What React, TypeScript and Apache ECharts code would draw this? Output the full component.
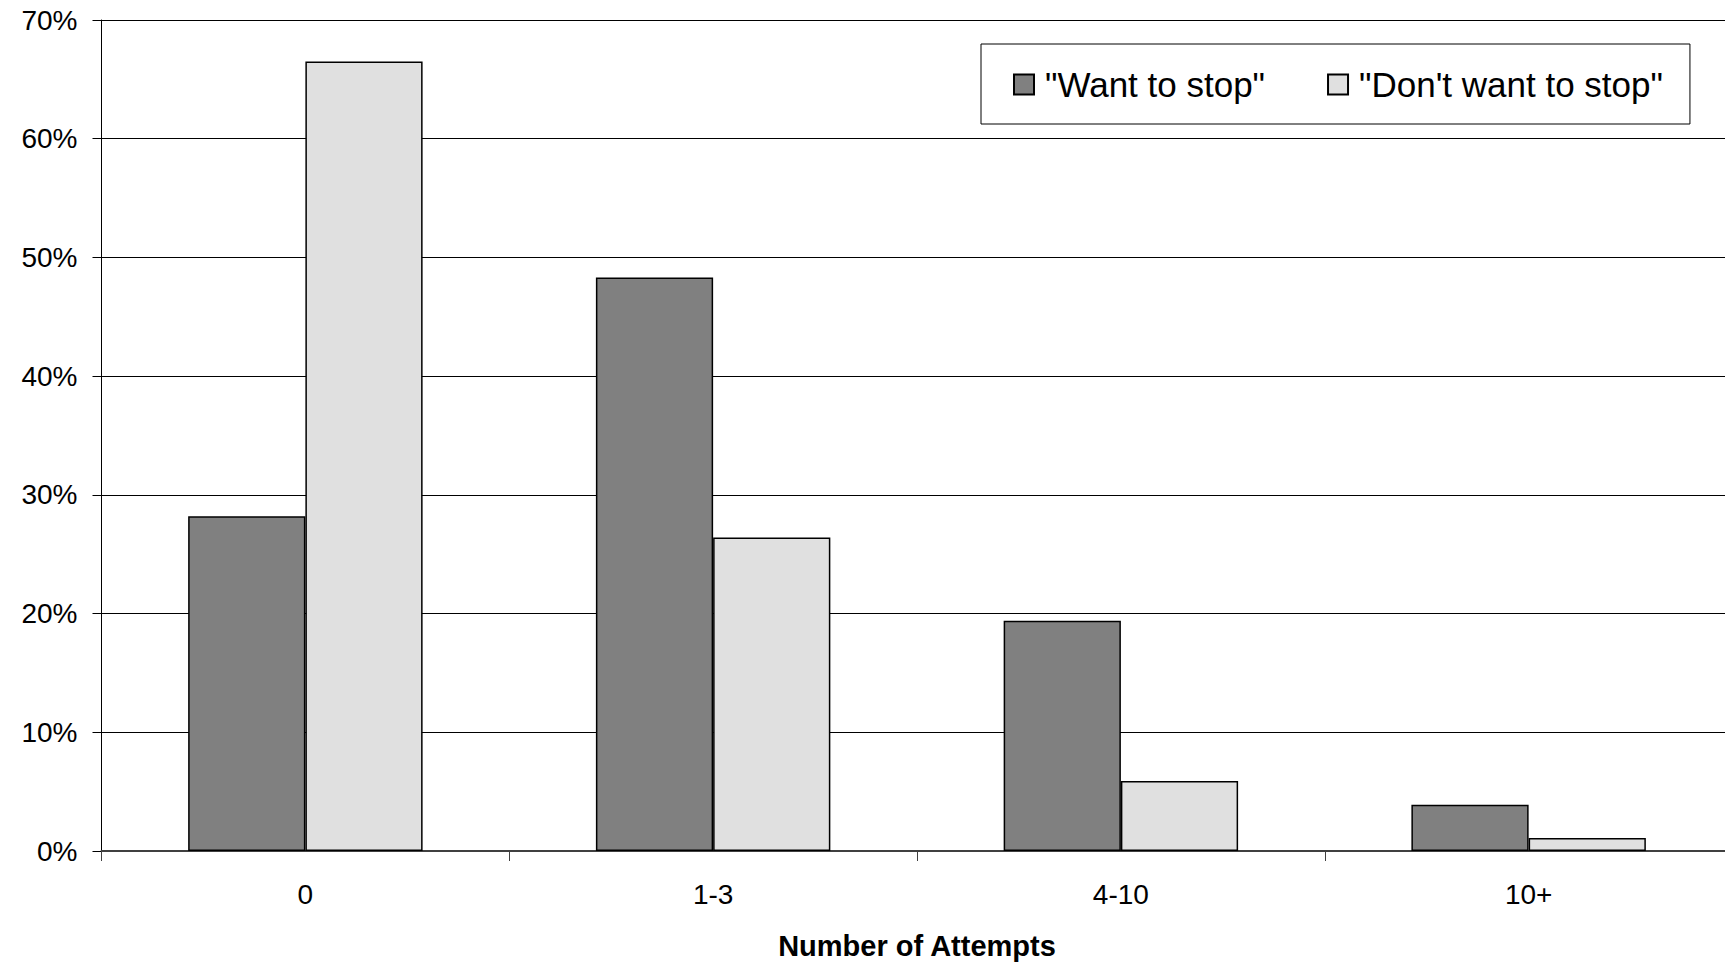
import React, { useEffect, useRef } from "react";
import * as echarts from "echarts";

const categories = ["0", "1-3", "4-10", "10+"];
const wantToStop = [28.2, 48.3, 19.4, 3.9];
const dontWantToStop = [66.5, 26.4, 5.9, 1.1];
const seriesNames = ['"Want to stop"', '"Don\'t want to stop"'];
const axisTitle = "Number of Attempts";

const FONT = "'Liberation Sans', Arial, sans-serif";

export default function App() {
  const ref = useRef<HTMLDivElement>(null);
  useEffect(() => {
    if (!ref.current) return;
    const chart = echarts.init(ref.current, null, { renderer: "svg" });
    chart.setOption({
      animation: false,
      backgroundColor: "#ffffff",
      textStyle: { fontFamily: FONT },
      grid: { left: 101.5, top: 20, width: 1631, height: 832, containLabel: false },
      legend: {
        left: 981,
        top: 44,
        orient: "horizontal",
        padding: [23, 27, 22, 32],
        itemGap: 62,
        itemWidth: 20,
        itemHeight: 20,
        borderColor: "#000",
        borderWidth: 1,
        backgroundColor: "#fff",
        icon: "rect",
        textStyle: { fontSize: 35, color: "#000", fontFamily: FONT, padding: [0, 0, 0, 6] },
        data: seriesNames,
      },
      xAxis: {
        type: "category",
        data: categories,
        name: axisTitle,
        nameLocation: "middle",
        nameGap: 80,
        nameTextStyle: { fontSize: 29, fontWeight: "bold", color: "#000", fontFamily: FONT },
        axisLine: { show: true, lineStyle: { color: "#404040", width: 2 } },
        axisTick: { show: true, length: 10, lineStyle: { color: "#404040", width: 1 } },
        axisLabel: { fontSize: 28, color: "#000", margin: 29, fontFamily: FONT },
        splitLine: { show: false },
      },
      yAxis: {
        type: "value",
        min: 0,
        max: 70,
        interval: 10,
        axisLine: { show: true, lineStyle: { color: "#000", width: 1 } },
        axisTick: { show: true, length: 9, lineStyle: { color: "#000", width: 1 } },
        axisLabel: { fontSize: 28, color: "#000", margin: 24, formatter: "{value}%", fontFamily: FONT },
        splitLine: { show: true, lineStyle: { color: "#000", width: 1 } },
      },
      series: [
        {
          name: seriesNames[0],
          type: "bar",
          data: wantToStop,
          barGap: "0%",
          barCategoryGap: "42.5%",
          itemStyle: { color: "#808080", borderColor: "#000", borderWidth: 1.5 },
        },
        {
          name: seriesNames[1],
          type: "bar",
          data: dontWantToStop,
          barGap: "0%",
          barCategoryGap: "42.5%",
          itemStyle: { color: "#e0e0e0", borderColor: "#000", borderWidth: 1.5 },
        },
      ],
    });
    return () => chart.dispose();
  }, []);
  return (
    <div
      style={{
        position: "absolute",
        left: 0,
        top: 0,
        width: 1725,
        height: 965,
        overflow: "hidden",
        background: "#fff",
      }}
    >
      <div ref={ref} style={{ width: 1740, height: 965 }} />
    </div>
  );
}
